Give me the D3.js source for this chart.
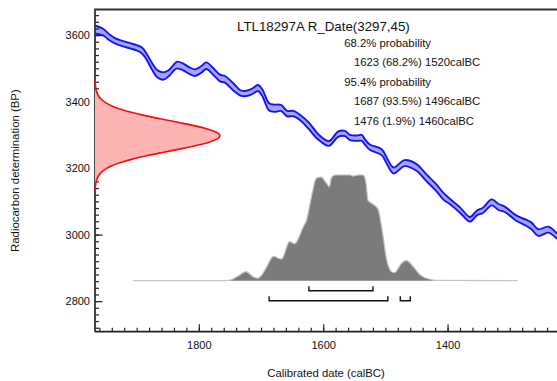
<!DOCTYPE html>
<html>
<head>
<meta charset="utf-8">
<script src="https://cdn.jsdelivr.net/npm/d3@7"></script>
<style>
  html, body { margin: 0; padding: 0; background: #fff; }
  svg { display: block; font-family: "Liberation Sans", Arial, sans-serif; }
</style>
</head>
<body>
<svg id="chart" width="557" height="381"></svg>
<script>
// ---- Calibration curve (IntCal-style band): calBC year, BP, 1-sigma error ----
const curveYears = [1967,1954,1945,1935,1922,1911,1900,1891,1883,1875,1867,1857,1848,1840,1835,1825,1815,1806,1796,1788,1777,1766,1758,1745,1734,1726,1715,1705,1698,1687,1678,1668,1658,1648,1635,1623,1608,1591,1576,1565,1557,1546,1538,1533,1525,1506,1498,1487,1469,1450,1434,1418,1407,1396,1380,1364,1353,1343,1329,1318,1308,1289,1273,1265,1254,1238,1224];
const curveBP    = [3617,3609,3595,3583,3574,3568,3562,3553,3532,3505,3484,3477,3486,3503,3510,3504,3493,3487,3497,3508,3491,3471,3467,3445,3427,3424,3430,3441,3427,3384,3380,3381,3364,3364,3349,3327,3294,3274,3302,3304,3292,3290,3291,3279,3263,3248,3223,3193,3215,3202,3171,3141,3116,3099,3074,3046,3065,3073,3097,3083,3076,3049,3035,3026,3006,3015,2995];
const curveErr   = [12,10,9,8,8,8,8,9,9,10,11,11,9,9,10,10,10,10,10,10,10,10,10,11,8,8,8,9,10,11,11,9,8,8,8,10,8,7,8,8,8,8,9,8,8,9,9,9,9,10,10,10,10,8,8,7,7,8,9,9,8,8,9,10,10,9,8];

// ---- Radiocarbon measurement R_Date(3297,45) : BP and relative density ----
const rDateBP      = [3467,3457,3447,3437,3427,3417,3407,3397,3387,3377,3367,3357,3347,3337,3327,3317,3307,3297,3287,3277,3267,3257,3247,3237,3227,3217,3207,3197,3187,3177,3167,3157,3147,3137,3127];
const rDateDensity = [0.0008,0.0018,0.0039,0.0079,0.0154,0.0286,0.0504,0.0847,0.1353,0.2059,0.2982,0.4111,0.5394,0.6737,0.8007,0.906,0.9756,1,0.9756,0.906,0.8007,0.6737,0.5394,0.4111,0.2982,0.2059,0.1353,0.0847,0.0504,0.0286,0.0154,0.0079,0.0039,0.0018,0.0008];

// ---- Calibrated probability distribution: calBC year, relative probability ----
const distYears = [1906,1760,1750,1738,1724,1712,1705,1698,1691,1680,1667,1654,1646,1632,1627,1619,1611,1603,1597,1590,1587,1581,1557,1552,1544,1536,1531,1528,1524,1512,1506,1498,1490,1485,1479,1474,1466,1455,1444,1428,1418,1287];
const distProb  = [0,0,0.005,0.04,0.085,0.035,0.023,0.06,0.13,0.23,0.205,0.37,0.35,0.51,0.57,0.79,0.97,0.98,0.94,0.89,0.97,1.0,1.0,0.99,1.0,1.0,0.92,0.76,0.74,0.68,0.51,0.2,0.085,0.075,0.12,0.165,0.19,0.13,0.055,0.013,0.003,0];

// ---- Ranges (calBC) ----
const ranges68 = [[1623,1520]];
const ranges95 = [[1687,1496],[1476,1460]];

// ---- Tick values & labels ----
const xMajorTicks = [1800,1600,1400];
const yMajorTicks = [2800,3000,3200,3400,3600];

// ---- Text ----
const titleText = "LTL18297A R_Date(3297,45)";
const summaryLines = [
  {text: "68.2% probability", indent: false},
  {text: "1623 (68.2%) 1520calBC", indent: true},
  {text: "95.4% probability", indent: false},
  {text: "1687 (93.5%) 1496calBC", indent: true},
  {text: "1476 (1.9%) 1460calBC", indent: true}
];
const xTitle = "Calibrated date (calBC)";
const yTitle = "Radiocarbon determination (BP)";

// ================= drawing =================
const svg = d3.select("#chart");
const L = 95, R = 557, T = 9.5, B = 331.7;

const x = d3.scaleLinear().domain([1967, 1224]).range([L, R]);
const y = d3.scaleLinear().domain([2708, 3677]).range([B, T]);

svg.append("defs").append("clipPath").attr("id", "plotClip")
  .append("rect").attr("x", L).attr("y", T).attr("width", R - L).attr("height", B - T);

const plot = svg.append("g").attr("clip-path", "url(#plotClip)");

// Calibration band
const cal = curveYears.map((yr, i) => ({yr, bp: curveBP[i], e: curveErr[i]}));
const cr = d3.curveCatmullRom.alpha(0.5);
plot.append("path").datum(cal)
  .attr("d", d3.area().x(d => x(d.yr)).y0(d => y(d.bp - d.e)).y1(d => y(d.bp + d.e)).curve(cr))
  .attr("fill", "#a4a4fa");
[1, -1].forEach(s => {
  plot.append("path").datum(cal)
    .attr("d", d3.line().x(d => x(d.yr)).y(d => y(d.bp + s * d.e)).curve(cr))
    .attr("fill", "none").attr("stroke", "#1414f5").attr("stroke-width", 1.9);
});

// Calibrated distribution
const baseY = 280.7;
const h = d3.scaleLinear().domain([0, 1]).range([baseY, 175]);
const dist = distYears.map((yr, i) => ({yr, p: distProb[i]}));
plot.append("path").datum(dist)
  .attr("d", d3.area().x(d => x(d.yr)).y0(baseY).y1(d => h(d.p)).curve(d3.curveMonotoneX))
  .attr("fill", "#7b7b7b");
plot.append("path").datum(dist)
  .attr("d", d3.line().x(d => x(d.yr)).y(d => h(d.p)).curve(d3.curveMonotoneX))
  .attr("fill", "none").attr("stroke", "#c4c4c4").attr("stroke-width", 1.2);

// Range brackets
function bracket(r, yy) {
  const x1 = x(r[0]), x2 = x(r[1]);
  svg.append("path")
    .attr("d", `M${x1},${yy - 4.5}V${yy}H${x2}V${yy - 4.5}`)
    .attr("fill", "none").attr("stroke", "#111").attr("stroke-width", 1.4);
}
ranges68.forEach(r => bracket(r, 290.7));
ranges95.forEach(r => bracket(r, 300.7));

// Axes (ticks inward)
const xAxisG = svg.append("g").attr("transform", `translate(0,${B})`);
xAxisG.call(d3.axisBottom(x).tickValues(d3.range(1960, 1220, -20)).tickSize(-4).tickFormat(""));
xAxisG.append("g").call(d3.axisBottom(x).tickValues(xMajorTicks).tickSize(-7.5).tickFormat(d3.format("d")));
xAxisG.selectAll(".domain").remove();
xAxisG.selectAll("line").attr("stroke", "#222").attr("stroke-width", 1.2);
xAxisG.selectAll("text").attr("y", 10).attr("dy", "0.71em").attr("font-size", 11).attr("fill", "#111")
  .attr("font-family", "'Liberation Sans', Arial, sans-serif");

const yAxisG = svg.append("g").attr("transform", `translate(${L},0)`);
yAxisG.call(d3.axisLeft(y).tickValues(d3.range(2720, 3680, 20)).tickSize(-4).tickFormat(""));
yAxisG.append("g").call(d3.axisLeft(y).tickValues(yMajorTicks).tickSize(-7.5).tickFormat(d3.format("d")));
yAxisG.selectAll(".domain").remove();
yAxisG.selectAll("line").attr("stroke", "#222").attr("stroke-width", 1.2);
yAxisG.selectAll("text").attr("x", -5).attr("font-size", 11).attr("fill", "#111")
  .attr("font-family", "'Liberation Sans', Arial, sans-serif");

// Frame
svg.append("path").attr("d", `M${L},${B}V${T}H${R}`).attr("fill", "none").attr("stroke", "#333").attr("stroke-width", 1.8);
svg.append("path").attr("d", `M${L},${B}H${R}`).attr("fill", "none").attr("stroke", "#222").attr("stroke-width", 1.8);

// Measurement (red) drawn over the axis
const rx = d3.scaleLinear().domain([0, 1]).range([L, 220]);
const red = rDateBP.map((bp, i) => ({bp, d: rDateDensity[i]}));
svg.append("path").datum(red)
  .attr("d", d3.area().y(d => y(d.bp)).x0(L).x1(d => rx(d.d)).curve(d3.curveMonotoneY))
  .attr("fill", "#ffb4b4");
svg.append("path").datum(red)
  .attr("d", d3.line().y(d => y(d.bp)).x(d => rx(d.d)).curve(d3.curveMonotoneY))
  .attr("fill", "none").attr("stroke", "#f01010").attr("stroke-width", 1.6);

// Texts
svg.append("text").attr("x", 237).attr("y", 30.5).attr("font-size", 13.3).attr("fill", "#111").text(titleText);
summaryLines.forEach((ln, i) => {
  svg.append("text").attr("x", ln.indent ? 354 : 344.3).attr("y", 47 + i * 19.4)
    .attr("font-size", 11.3).attr("fill", "#111").text(ln.text);
});
svg.append("text").attr("x", (L + R) / 2).attr("y", 376.5).attr("text-anchor", "middle")
  .attr("font-size", 11.3).attr("fill", "#111").text(xTitle);
svg.append("text").attr("transform", `translate(19,${(T + B) / 2}) rotate(-90)`).attr("text-anchor", "middle")
  .attr("font-size", 11.4).attr("fill", "#111").text(yTitle);
</script>
</body>
</html>
